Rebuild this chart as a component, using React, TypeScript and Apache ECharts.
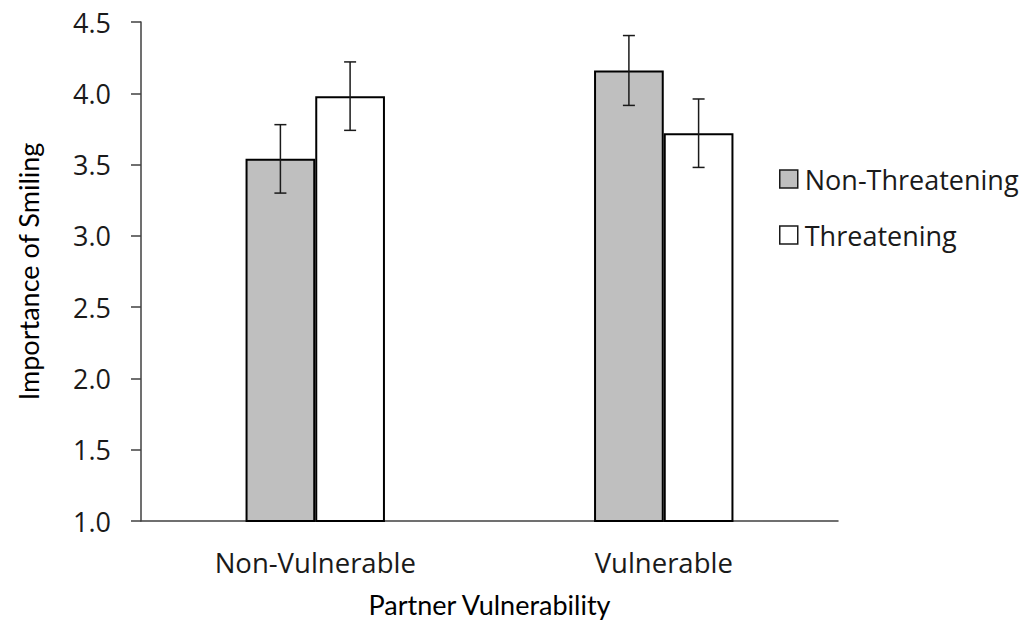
import React, { useEffect, useRef } from "react";
import * as echarts from "echarts";

const categories = ["Non-Vulnerable", "Vulnerable"];
const seriesNames = ["Non-Threatening", "Threatening"];
const nonThreatening = [3.54, 4.16];
const threatening = [3.98, 3.72];
const nonThreateningErr = [0.24, 0.245];
const threateningErr = [0.24, 0.24];
const yTicks = { min: 1.0, max: 4.5, interval: 0.5 };

const LIGHT = "'Open Sans', Lato, sans-serif";
const TITLE = "Lato, 'Open Sans', sans-serif";

export default function App() {
  const ref = useRef<HTMLDivElement>(null);
  useEffect(() => {
    if (!ref.current) return;
    const chart = echarts.init(ref.current, undefined, { renderer: "svg" });

    const makeErr = (vals: number[], errs: number[], side: number) => ({
      type: "custom",
      name: "err" + side,
      z: 10,
      renderItem: (params: any, api: any) => {
        const idx = api.value(0);
        const v = api.value(1);
        const e = api.value(2);
        const band = api.size([1, 0])[0];
        const c = api.coord([idx, v]);
        const x = c[0] + side * band * 0.1;
        const top = api.coord([idx, v + e])[1];
        const bot = api.coord([idx, v - e])[1];
        const cap = 6;
        const style = { stroke: "#1a1a1a", lineWidth: 1.5 };
        return {
          type: "group",
          children: [
            { type: "line", shape: { x1: x, y1: top, x2: x, y2: bot }, style },
            { type: "line", shape: { x1: x - cap, y1: top, x2: x + cap, y2: top }, style },
            { type: "line", shape: { x1: x - cap, y1: bot, x2: x + cap, y2: bot }, style },
          ],
        };
      },
      data: vals.map((v, i) => [i, v, errs[i]]),
      encode: { x: 0, y: 1 },
    });

    chart.setOption({
      animation: false,
      backgroundColor: "#ffffff",
      grid: { left: 141, top: 22, right: 186, bottom: 106 },
      legend: {
        orient: "vertical",
        left: 779,
        top: 163,
        padding: 0,
        data: seriesNames,
        itemWidth: 18,
        itemHeight: 18,
        itemGap: 24,
        icon: "rect",
        itemStyle: { borderWidth: 1.5, borderColor: "#1a1a1a" },
        textStyle: { fontFamily: LIGHT, fontSize: 27, color: "#1a1a1a", lineHeight: 32, padding: [0, 0, 0, 2] },
      },
      xAxis: {
        type: "category",
        data: categories,
        name: "Partner Vulnerability",
        nameLocation: "middle",
        nameGap: 70,
        nameTextStyle: { fontFamily: TITLE, fontSize: 27, color: "#000" },
        axisLine: { lineStyle: { color: "#404040", width: 1.5 } },
        axisTick: { show: false },
        axisLabel: { fontFamily: LIGHT, fontSize: 27.5, color: "#1a1a1a", margin: 27 },
      },
      yAxis: {
        type: "value",
        min: yTicks.min,
        max: yTicks.max,
        interval: yTicks.interval,
        name: "Importance of Smiling",
        nameLocation: "middle",
        nameGap: 99,
        nameRotate: 90,
        nameTextStyle: { fontFamily: TITLE, fontSize: 27, color: "#000" },
        axisLine: { show: true, lineStyle: { color: "#404040", width: 1.5 } },
        axisTick: { show: true, length: 10, lineStyle: { color: "#404040", width: 1.5 } },
        splitLine: { show: false },
        axisLabel: {
          fontFamily: LIGHT,
          fontSize: 27,
          color: "#1a1a1a",
          margin: 30,
          formatter: (v: number) => v.toFixed(1),
        },
      },
      series: [
        {
          type: "bar",
          name: seriesNames[0],
          data: nonThreatening,
          barGap: "0%",
          barCategoryGap: "60%",
          itemStyle: { color: "#bfbfbf", borderColor: "#000", borderWidth: 2 },
        },
        {
          type: "bar",
          name: seriesNames[1],
          data: threatening,
          itemStyle: { color: "#ffffff", borderColor: "#000", borderWidth: 2 },
        },
        makeErr(nonThreatening, nonThreateningErr, -1),
        makeErr(threatening, threateningErr, 1),
      ],
    });
    return () => chart.dispose();
  }, []);
  return <div ref={ref} style={{ width: 1024, height: 627, position: "absolute", left: 0, top: 0 }} />;
}
